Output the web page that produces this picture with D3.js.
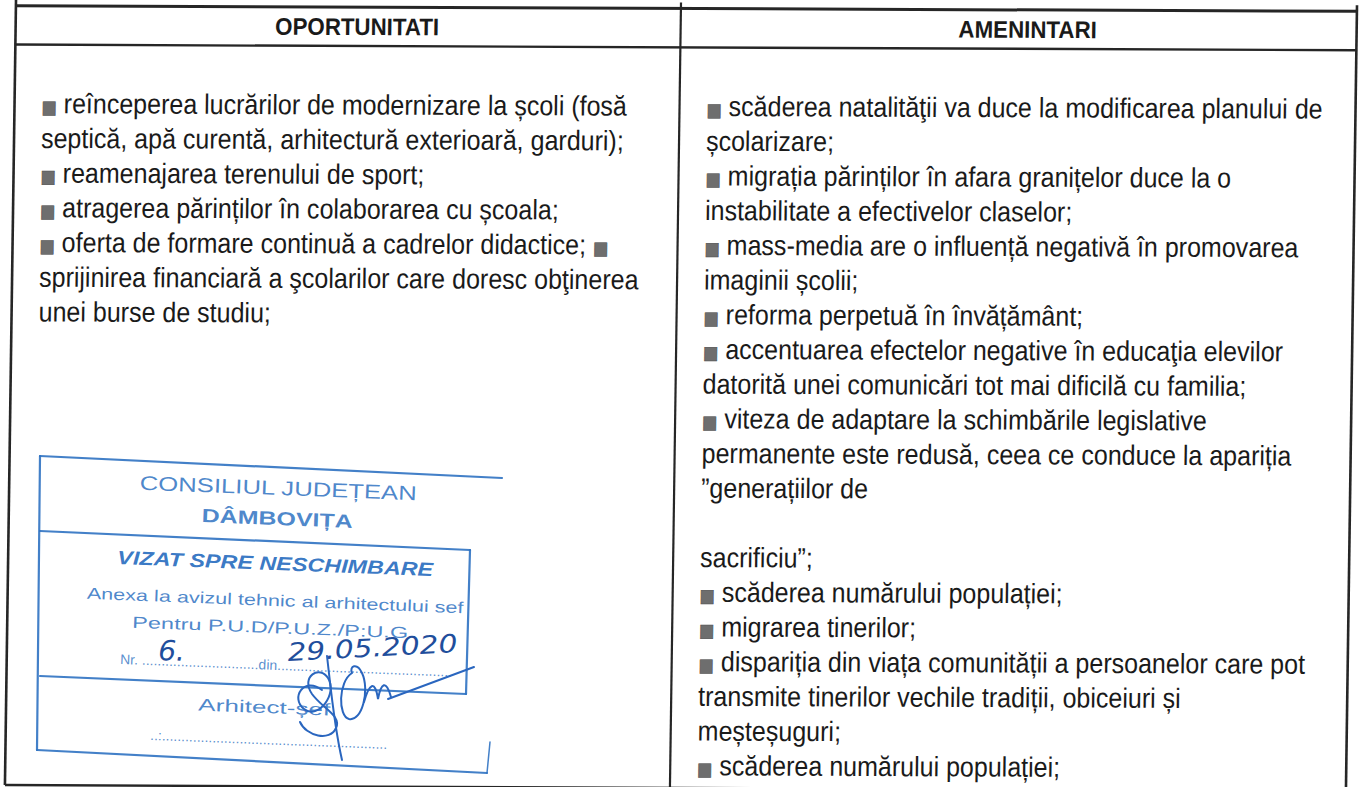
<!DOCTYPE html>
<html><head><meta charset="utf-8">
<script src="https://cdn.jsdelivr.net/npm/d3@7"></script>
<style>html,body{margin:0;padding:0;background:#fff;overflow:hidden}</style>
</head><body><svg id="c" width="1363" height="787"></svg>
<script>
// ---------- data ----------
const categories = ["OPORTUNITATI", "AMENINTARI"];
const oportunitati = [
  "■ reînceperea lucrărilor de modernizare la școli (fosă",
  "septică, apă curentă, arhitectură exterioară, garduri);",
  "■ reamenajarea terenului de sport;",
  "■ atragerea părinților în colaborarea cu școala;",
  "■ oferta de formare continuă a cadrelor didactice; ■",
  "sprijinirea financiară a şcolarilor care doresc obţinerea",
  "unei burse de studiu;"
];
const amenintari = [
  "■ scăderea natalităţii va duce la modificarea planului de",
  "școlarizare;",
  "■ migrația părinților în afara granițelor duce la o",
  "instabilitate a efectivelor claselor;",
  "■ mass-media are o influență negativă în promovarea",
  "imaginii școlii;",
  "■ reforma perpetuă în învățământ;",
  "■ accentuarea efectelor negative în educaţia elevilor",
  "datorită unei comunicări tot mai dificilă cu familia;",
  "■ viteza de adaptare la schimbările legislative",
  "permanente este redusă, ceea ce conduce la apariția",
  "”generațiilor de",
  "",
  "sacrificiu”;",
  "■ scăderea numărului populației;",
  "■ migrarea tinerilor;",
  "■ dispariția din viața comunității a persoanelor care pot",
  "transmite tinerilor vechile tradiții, obiceiuri și",
  "meșteșuguri;",
  "■ scăderea numărului populației;"
];
const columns = [oportunitati, amenintari];
const stampTexts = ["CONSILIUL JUDEȚEAN", "DÂMBOVIȚA", "VIZAT SPRE NESCHIMBARE",
  "Anexa la avizul tehnic al arhitectului sef", "Pentru P.U.D/P.U.Z./P:U.G", "Arhitect-șef"];
const stampNr = "6.";
const stampDate = "29.05.2020";

// ---------- layout ----------
const svg = d3.select("#c");
svg.append("rect").attr("width", 1363).attr("height", 787).attr("fill", "#ffffff");

const page = svg.append("g").attr("transform", "matrix(1,0.0042,-0.0141,1,0,0)");
const ink = "#262626";
const bodyFont = "'Liberation Sans Narrow','Arial Narrow','Liberation Sans',Arial,sans-serif";
const colX = d3.scaleOrdinal().domain(categories).range([16, 681]);
const rightEdge = 1357;
const yTop = 5.6, yHead = 44.5, yBottom = 785;
const lineY = d3.scaleLinear().domain([0, 1]).range([113, 147.7]);
const squeeze = 0.894;

// grid lines
const hLines = [yTop, yHead, yBottom];
page.selectAll("line.h").data(hLines).join("line").attr("class", "h")
  .attr("x1", colX(categories[0])).attr("x2", rightEdge)
  .attr("y1", d => d).attr("y2", d => d)
  .attr("stroke", ink).attr("stroke-width", (d, i) => i === 0 ? 3 : 2.4);
const vLines = [colX(categories[0]), colX(categories[1]), rightEdge];
page.selectAll("line.v").data(vLines).join("line").attr("class", "v")
  .attr("x1", d => d).attr("x2", d => d)
  .attr("y1", yTop - 6).attr("y2", yBottom)
  .attr("stroke", ink).attr("stroke-width", (d, i) => i === 1 ? 2.2 : 2.6);

// headers
const colW = c => (categories.indexOf(c) === 0 ? colX(categories[1]) : rightEdge) - colX(c);
page.selectAll("text.head").data(categories).join("text").attr("class", "head")
  .attr("transform", d => `translate(${colX(d) + colW(d) / 2 + 9},${(yTop + yHead) / 2 + 8.5}) scale(0.93,1)`)
  .attr("text-anchor", "middle")
  .attr("font-family", bodyFont)
  .attr("font-weight", "bold").attr("font-size", 24).attr("fill", "#1a1a1a")
  .text(d => d);

// body text
categories.forEach((cat, ci) => {
  const g = page.append("g");
  columns[ci].forEach((line, i) => {
    if (!line) return;
    const t = g.append("text")
      .attr("transform", `translate(${colX(cat) + 27},${lineY(i)}) scale(${squeeze},1)`)
      .attr("font-family", bodyFont)
      .attr("font-size", 28).attr("fill", "#1a1a1a");
    const parts = line.split(/(■)/).filter(p => p !== "");
    parts.forEach(p => {
      if (p === "■") {
        t.append("tspan").attr("font-family", "'DejaVu Sans',sans-serif")
          .attr("font-size", 18).attr("fill", "#6e6e6e")
          .attr("stroke", "#4a4a4a").attr("stroke-width", 0.6).text("■");
      } else {
        t.append("tspan").text(p);
      }
    });
  });
});

// ---------- stamp ----------
const blue = "#2f72c2";
const st = svg.append("g").attr("fill", "none").attr("stroke", blue).attr("stroke-linecap", "round");
const stampFrame = [
  "M40,456 L502,478", "M40,456 L37,750", "M37,750 L487,773", "M490,742 L487,773",
  "M40,531 L470,550", "M470,550 L466,694", "M40,676 L466,694"
];
st.selectAll("path.f").data(stampFrame).join("path").attr("d", d => d)
  .attr("stroke-width", (d, i) => i === 3 ? 1.5 : 2.2).attr("stroke-opacity", 0.9);

const stampFont = "'Liberation Sans','DejaVu Sans',sans-serif";
const stampSpec = [
  {x: 278, y: 495, w: 277, size: 20, weight: "normal", style: "normal"},
  {x: 277, y: 525, w: 151, size: 19, weight: "bold", style: "normal"},
  {x: 275, y: 570, w: 316, size: 19, weight: "bold", style: "italic"},
  {x: 275, y: 606, w: 377, size: 16, weight: "normal", style: "normal"},
  {x: 270, y: 633, w: 276, size: 16, weight: "normal", style: "normal"},
  {x: 264, y: 713, w: 132, size: 17, weight: "normal", style: "normal"}
];
const stg = svg.append("g").attr("fill", blue).attr("font-family", stampFont);
stampTexts.forEach((s, i) => {
  const sp = stampSpec[i];
  stg.append("text")
    .attr("transform", `translate(${sp.x},${sp.y}) rotate(2.2)`)
    .attr("text-anchor", "middle")
    .attr("font-size", sp.size).attr("font-weight", sp.weight).attr("font-style", sp.style)
    .attr("textLength", sp.w).attr("lengthAdjust", "spacingAndGlyphs")
    .attr("fill-opacity", i === 2 ? 0.95 : 0.85)
    .text(s);
});
stg.append("text").attr("transform", "translate(120,664) rotate(2.2)")
  .attr("font-size", 14).attr("fill-opacity", 0.8)
  .text("Nr. ..............................din.............................................");
stg.append("text").attr("transform", "translate(150,740) rotate(2.2)")
  .attr("font-size", 14).attr("fill-opacity", 0.8)
  .text("..:..........................................................");
const hand = svg.append("g").attr("fill", "#1f4e9c").attr("font-family", "'DejaVu Sans',sans-serif")
  .attr("font-style", "italic");
hand.append("text").attr("transform", "translate(158,660) rotate(2)").attr("font-size", 28).text(stampNr);
hand.append("text").attr("transform", "translate(288,661) rotate(-3)").attr("font-size", 25)
  .attr("textLength", 170).attr("lengthAdjust", "spacingAndGlyphs").text(stampDate);
const sig = [
  "M322,690 C304,676 290,698 304,709 C318,720 338,694 328,678 C320,665 300,676 312,694 C322,708 342,716 336,728 C330,742 306,736 300,722",
  "M327,656 C331,690 334,725 342,760",
  "M352,673 C338,682 338,716 349,719 C362,722 370,690 362,673 C357,662 349,666 352,673",
  "M364,702 C369,684 375,679 378,699 C381,683 386,679 391,697",
  "M388,699 L474,667"
];
svg.append("g").selectAll("path").data(sig).join("path").attr("d", d => d)
  .attr("fill", "none").attr("stroke", "#2a66bf").attr("stroke-width", 2).attr("stroke-linecap", "round");
</script>
</body></html>
